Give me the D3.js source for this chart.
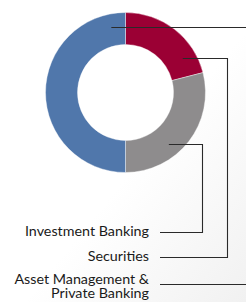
<!DOCTYPE html>
<html>
<head>
<meta charset="utf-8">
<script src="https://cdn.jsdelivr.net/npm/d3@7"></script>
<style>
  html, body { margin: 0; padding: 0; background: #fff; }
  svg { display: block; }
</style>
</head>
<body>
<svg id="chart"></svg>
<script>
// segment order, clockwise from 12 o'clock
const categories = ['Securities', 'Investment Banking', 'Asset Management & Private Banking']
const shares = [21, 29, 50]
const colors = ['#9b0034', '#8e8c8d', '#5077ab']

// label text lines, in the order they appear bottom-left
const labelOrder = ['Investment Banking', 'Securities', 'Asset Management & Private Banking']
const labelLines = [['Investment Banking'], ['Securities'], ['Asset Management &', 'Private Banking']]

// leader layout: angle (deg) of the anchor inside the ring, x of the vertical drop
const leaders = {
  'Securities': { angle: 58.7, elbowX: 227.5 },
  'Investment Banking': { angle: 139.7, elbowX: 202.5 },
  'Asset Management & Private Banking': { angle: -12.2, elbowX: 250 }
}

const width = 246
const height = 302
const svg = d3.select('#chart').attr('width', width).attr('height', height)

const defs = svg.append('defs')
const bg = defs.append('linearGradient').attr('id', 'bg')
  .attr('x1', 0).attr('y1', 0).attr('x2', 1).attr('y2', 1)
bg.append('stop').attr('offset', '55%').attr('stop-color', '#ffffff')
bg.append('stop').attr('offset', '100%').attr('stop-color', '#f1f1f1')
svg.append('rect').attr('width', width).attr('height', height).attr('fill', 'url(#bg)')

const cx = 125.5
const cy = 92.5
const outerR = 80
const innerR = 48

const pie = d3.pie().sort(null).value(d => d.value)
const arcs = pie(categories.map((c, i) => ({ name: c, value: shares[i], color: colors[i] })))
const arc = d3.arc().innerRadius(innerR).outerRadius(outerR)

const g = svg.append('g').attr('transform', `translate(${cx},${cy})`)
g.selectAll('path')
  .data(arcs)
  .enter()
  .append('path')
  .attr('d', arc)
  .attr('fill', d => d.data.color)
  .attr('stroke', '#fff')
  .attr('stroke-width', 0.4)

// label rows: leader y and text baseline offset
const textRight = 149
const lineStart = 160
const rowY = { 'Investment Banking': 232.5, 'Securities': 257.5, 'Asset Management & Private Banking': 284.5 }
const baseOff = { 'Investment Banking': 3.5, 'Securities': 3, 'Asset Management & Private Banking': -0.5 }

const anchorR = 67
labelOrder.forEach((name, i) => {
  const L = leaders[name]
  const a = L.angle * Math.PI / 180
  const [ax, ay] = d3.pointRadial(a, anchorR)
  const sx = cx + ax
  const sy = Math.round(cy + ay) + 0.5
  const ly = rowY[name]
  const path = d3.path()
  path.moveTo(sx, sy)
  path.lineTo(L.elbowX, sy)
  path.lineTo(L.elbowX, ly)
  path.lineTo(lineStart, ly)
  svg.append('path')
    .attr('d', path.toString())
    .attr('fill', 'none')
    .attr('stroke', '#2a2a2a')
    .attr('stroke-width', 1.1)

  const t = svg.append('text')
    .attr('x', textRight)
    .attr('y', ly + baseOff[name])
    .attr('text-anchor', 'end')
    .attr('font-family', 'Lato, "Open Sans", sans-serif')
    .attr('font-size', 14.3)
    .attr('fill', '#1a1a1a')
  labelLines[i].forEach((ln, j) => {
    t.append('tspan').attr('x', textRight).attr('dy', j === 0 ? 0 : 14.2).text(ln)
  })
})
</script>
</body>
</html>
